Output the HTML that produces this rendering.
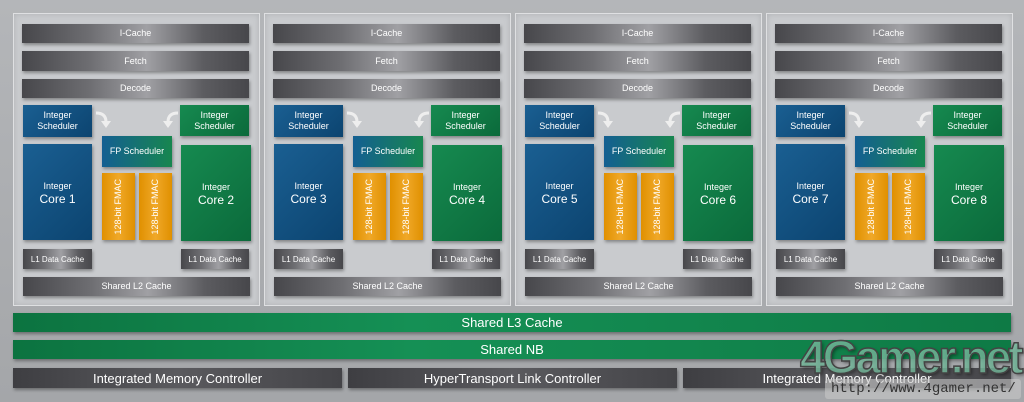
<!DOCTYPE html>
<html><head><meta charset="utf-8"><style>
*{margin:0;padding:0;box-sizing:border-box}
body{width:1024px;height:402px;overflow:hidden;background:linear-gradient(#b4b6b9,#a4a6a9);font-family:"Liberation Sans",sans-serif;position:relative}
.m{position:absolute;top:13px;width:247px;height:293px;background:#c9cbce;border:1px solid #dfe0e2;box-shadow:inset 0 0 6px #b0b2b5}
.b{position:absolute;display:flex;align-items:center;justify-content:center;text-align:center;color:#fff;font-size:9px;line-height:11px;box-shadow:1px 2px 3px rgba(0,0,0,.35)}
.g{background:linear-gradient(90deg,#47474b,#6e6e72 30%,#a0a0a4 55%,#5c5c60 80%,#47474b)}
.bl{background:linear-gradient(135deg,#1a5f92,#0c4470)}
.gr{background:linear-gradient(135deg,#168a50,#0b6a3b)}
.fp{background:linear-gradient(90deg,#145f92,#17864f)}
.or{background:linear-gradient(90deg,#e09000,#f0a828,#e09000)}
.v{writing-mode:vertical-rl;transform:rotate(180deg);font-size:9px}
.big{font-size:12px;line-height:13px}
.arr{position:absolute;width:20px;height:20px}
.G{background:linear-gradient(90deg,#0c7340,#159055 40%,#0e7a45)}
.D{background:linear-gradient(90deg,#3e3e42,#5a5a5e 50%,#444448)}
</style></head><body>

<div class="m" style="left:13px">
<div class="b g" style="left:8px;top:10px;width:227px;height:19px">I-Cache</div>
<div class="b g" style="left:8px;top:37px;width:227px;height:20px">Fetch</div>
<div class="b g" style="left:8px;top:65px;width:227px;height:19px">Decode</div>
<div class="b bl" style="left:9px;top:91px;width:69px;height:32px">Integer<br>Scheduler</div>
<div class="b gr" style="left:166px;top:91px;width:69px;height:31px">Integer<br>Scheduler</div>
<svg class="arr" style="left:80px;top:96px" viewBox="0 0 20 20"><path d="M2 3 Q12 3 12 12" fill="none" stroke="#eee" stroke-width="3"/><path d="M7 11 L17 11 L12 18Z" fill="#eee"/></svg>
<svg class="arr" style="left:146px;top:96px" viewBox="0 0 20 20"><path d="M18 3 Q8 3 8 12" fill="none" stroke="#eee" stroke-width="3"/><path d="M3 11 L13 11 L8 18Z" fill="#eee"/></svg>
<div class="b fp" style="left:88px;top:122px;width:70px;height:31px">FP Scheduler</div>
<div class="b bl big" style="left:9px;top:130px;width:69px;height:96px"><span><span style="font-size:9px">Integer</span><br>Core 1</span></div>
<div class="b or" style="left:88px;top:159px;width:33px;height:67px"><span class="v">128-bit FMAC</span></div>
<div class="b or" style="left:125px;top:159px;width:33px;height:67px"><span class="v">128-bit FMAC</span></div>
<div class="b gr big" style="left:167px;top:131px;width:70px;height:96px"><span><span style="font-size:9px">Integer</span><br>Core 2</span></div>
<div class="b g" style="left:9px;top:235px;width:69px;height:20px;font-size:8px">L1 Data Cache</div>
<div class="b g" style="left:167px;top:235px;width:68px;height:20px;font-size:8px">L1 Data Cache</div>
<div class="b g" style="left:9px;top:263px;width:227px;height:19px">Shared L2 Cache</div>
</div>

<div class="m" style="left:264px">
<div class="b g" style="left:8px;top:10px;width:227px;height:19px">I-Cache</div>
<div class="b g" style="left:8px;top:37px;width:227px;height:20px">Fetch</div>
<div class="b g" style="left:8px;top:65px;width:227px;height:19px">Decode</div>
<div class="b bl" style="left:9px;top:91px;width:69px;height:32px">Integer<br>Scheduler</div>
<div class="b gr" style="left:166px;top:91px;width:69px;height:31px">Integer<br>Scheduler</div>
<svg class="arr" style="left:80px;top:96px" viewBox="0 0 20 20"><path d="M2 3 Q12 3 12 12" fill="none" stroke="#eee" stroke-width="3"/><path d="M7 11 L17 11 L12 18Z" fill="#eee"/></svg>
<svg class="arr" style="left:146px;top:96px" viewBox="0 0 20 20"><path d="M18 3 Q8 3 8 12" fill="none" stroke="#eee" stroke-width="3"/><path d="M3 11 L13 11 L8 18Z" fill="#eee"/></svg>
<div class="b fp" style="left:88px;top:122px;width:70px;height:31px">FP Scheduler</div>
<div class="b bl big" style="left:9px;top:130px;width:69px;height:96px"><span><span style="font-size:9px">Integer</span><br>Core 3</span></div>
<div class="b or" style="left:88px;top:159px;width:33px;height:67px"><span class="v">128-bit FMAC</span></div>
<div class="b or" style="left:125px;top:159px;width:33px;height:67px"><span class="v">128-bit FMAC</span></div>
<div class="b gr big" style="left:167px;top:131px;width:70px;height:96px"><span><span style="font-size:9px">Integer</span><br>Core 4</span></div>
<div class="b g" style="left:9px;top:235px;width:69px;height:20px;font-size:8px">L1 Data Cache</div>
<div class="b g" style="left:167px;top:235px;width:68px;height:20px;font-size:8px">L1 Data Cache</div>
<div class="b g" style="left:9px;top:263px;width:227px;height:19px">Shared L2 Cache</div>
</div>

<div class="m" style="left:515px">
<div class="b g" style="left:8px;top:10px;width:227px;height:19px">I-Cache</div>
<div class="b g" style="left:8px;top:37px;width:227px;height:20px">Fetch</div>
<div class="b g" style="left:8px;top:65px;width:227px;height:19px">Decode</div>
<div class="b bl" style="left:9px;top:91px;width:69px;height:32px">Integer<br>Scheduler</div>
<div class="b gr" style="left:166px;top:91px;width:69px;height:31px">Integer<br>Scheduler</div>
<svg class="arr" style="left:80px;top:96px" viewBox="0 0 20 20"><path d="M2 3 Q12 3 12 12" fill="none" stroke="#eee" stroke-width="3"/><path d="M7 11 L17 11 L12 18Z" fill="#eee"/></svg>
<svg class="arr" style="left:146px;top:96px" viewBox="0 0 20 20"><path d="M18 3 Q8 3 8 12" fill="none" stroke="#eee" stroke-width="3"/><path d="M3 11 L13 11 L8 18Z" fill="#eee"/></svg>
<div class="b fp" style="left:88px;top:122px;width:70px;height:31px">FP Scheduler</div>
<div class="b bl big" style="left:9px;top:130px;width:69px;height:96px"><span><span style="font-size:9px">Integer</span><br>Core 5</span></div>
<div class="b or" style="left:88px;top:159px;width:33px;height:67px"><span class="v">128-bit FMAC</span></div>
<div class="b or" style="left:125px;top:159px;width:33px;height:67px"><span class="v">128-bit FMAC</span></div>
<div class="b gr big" style="left:167px;top:131px;width:70px;height:96px"><span><span style="font-size:9px">Integer</span><br>Core 6</span></div>
<div class="b g" style="left:9px;top:235px;width:69px;height:20px;font-size:8px">L1 Data Cache</div>
<div class="b g" style="left:167px;top:235px;width:68px;height:20px;font-size:8px">L1 Data Cache</div>
<div class="b g" style="left:9px;top:263px;width:227px;height:19px">Shared L2 Cache</div>
</div>

<div class="m" style="left:766px">
<div class="b g" style="left:8px;top:10px;width:227px;height:19px">I-Cache</div>
<div class="b g" style="left:8px;top:37px;width:227px;height:20px">Fetch</div>
<div class="b g" style="left:8px;top:65px;width:227px;height:19px">Decode</div>
<div class="b bl" style="left:9px;top:91px;width:69px;height:32px">Integer<br>Scheduler</div>
<div class="b gr" style="left:166px;top:91px;width:69px;height:31px">Integer<br>Scheduler</div>
<svg class="arr" style="left:80px;top:96px" viewBox="0 0 20 20"><path d="M2 3 Q12 3 12 12" fill="none" stroke="#eee" stroke-width="3"/><path d="M7 11 L17 11 L12 18Z" fill="#eee"/></svg>
<svg class="arr" style="left:146px;top:96px" viewBox="0 0 20 20"><path d="M18 3 Q8 3 8 12" fill="none" stroke="#eee" stroke-width="3"/><path d="M3 11 L13 11 L8 18Z" fill="#eee"/></svg>
<div class="b fp" style="left:88px;top:122px;width:70px;height:31px">FP Scheduler</div>
<div class="b bl big" style="left:9px;top:130px;width:69px;height:96px"><span><span style="font-size:9px">Integer</span><br>Core 7</span></div>
<div class="b or" style="left:88px;top:159px;width:33px;height:67px"><span class="v">128-bit FMAC</span></div>
<div class="b or" style="left:125px;top:159px;width:33px;height:67px"><span class="v">128-bit FMAC</span></div>
<div class="b gr big" style="left:167px;top:131px;width:70px;height:96px"><span><span style="font-size:9px">Integer</span><br>Core 8</span></div>
<div class="b g" style="left:9px;top:235px;width:69px;height:20px;font-size:8px">L1 Data Cache</div>
<div class="b g" style="left:167px;top:235px;width:68px;height:20px;font-size:8px">L1 Data Cache</div>
<div class="b g" style="left:9px;top:263px;width:227px;height:19px">Shared L2 Cache</div>
</div>

<div class="b G" style="left:13px;top:313px;width:998px;height:19px;font-size:13px">Shared L3 Cache</div>
<div class="b G" style="left:13px;top:340px;width:998px;height:19px;font-size:13px">Shared NB</div>
<div class="b D" style="left:13px;top:368px;width:329px;height:20px;font-size:13px">Integrated Memory Controller</div>
<div class="b D" style="left:348px;top:368px;width:329px;height:20px;font-size:13px">HyperTransport Link Controller</div>
<div class="b D" style="left:683px;top:368px;width:328px;height:20px;font-size:13px">Integrated Memory Controller</div>

<div style="position:absolute;left:800px;top:332px;font-size:46px;font-weight:bold;color:rgba(120,190,160,.8);letter-spacing:-3px;-webkit-text-stroke:1.5px #444;text-shadow:2px 2px 3px rgba(0,0,0,.4);font-family:'Liberation Sans',sans-serif;line-height:50px">4Gamer.net</div>
<div style="position:absolute;left:825px;top:379px;width:196px;height:20px;background:rgba(200,200,200,.6);border-radius:3px;color:#333;font-family:'Liberation Mono',monospace;font-size:14px;line-height:20px;padding-left:6px">http://www.4gamer.net/</div>
</body></html>
